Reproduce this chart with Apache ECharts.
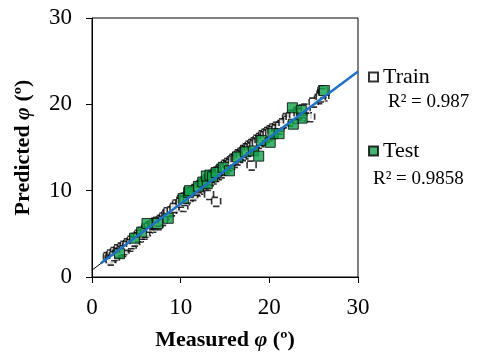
<!DOCTYPE html>
<html>
<head>
<meta charset="utf-8">
<script src="https://cdn.jsdelivr.net/npm/echarts@6/dist/echarts.min.js"></script>
<style>
  html, body { margin: 0; padding: 0; background: #fff; }
  #chart { width: 489px; height: 363px; }
</style>
</head>
<body>
<div id="chart"></div>
<script>
// measured vs predicted friction angle
const axisTicks = [0, 10, 20, 30];

const trainPoints = [
  [1.8, 2.3], [2.0, 2.1], [2.2, 2.6], [2.4, 2.2], [2.6, 2.9], [2.8, 2.5], [3.0, 3.2], [3.2, 2.8],
  [3.4, 3.4], [3.5, 2.9], [3.7, 3.6], [3.9, 3.3], [4.1, 3.9], [4.3, 3.5], [4.5, 4.2], [4.7, 3.9],
  [4.9, 4.5], [5.1, 4.3], [5.3, 4.9], [5.5, 4.6], [5.7, 5.2], [5.9, 4.9], [6.1, 5.6], [6.3, 5.3],
  [6.6, 5.9], [6.9, 5.7], [7.2, 6.3], [7.5, 6.0], [7.8, 6.6], [8.1, 6.9], [8.4, 7.2],
  [9.6, 8.4], [9.9, 8.2], [10.1, 8.9], [10.3, 8.1], [10.5, 9.2], [10.7, 8.9], [10.9, 9.6], [11.1, 9.3],
  [11.3, 9.9], [11.5, 9.6], [11.7, 10.2], [11.9, 9.9], [12.1, 10.5], [12.2, 10.1], [12.4, 10.8], [12.5, 10.4],
  [12.7, 11.0], [12.8, 10.6], [13.0, 11.3], [13.1, 10.9], [13.2, 9.5], [13.3, 11.5], [13.4, 11.1], [13.6, 11.8],
  [13.7, 11.3], [13.9, 12.0], [14.0, 8.7], [14.0, 11.6], [14.2, 12.2], [14.3, 11.8], [14.5, 12.5], [14.6, 12.0],
  [14.8, 12.7], [14.9, 12.3], [15.1, 13.0], [15.2, 12.5], [15.4, 13.2], [15.5, 12.8], [15.7, 13.4], [15.8, 13.0],
  [16.0, 13.7], [16.1, 13.2], [16.3, 13.9], [16.4, 13.5], [16.6, 14.2], [16.7, 13.8], [16.9, 14.4], [17.0, 14.0],
  [17.2, 14.7], [17.3, 14.2], [17.5, 14.9], [17.6, 14.5], [17.8, 15.2], [17.9, 14.7], [18.0, 12.9], [18.1, 15.4],
  [18.2, 15.0], [18.4, 15.6], [18.5, 15.2], [18.7, 15.9], [18.8, 15.4], [19.0, 16.1], [19.1, 15.6], [19.3, 16.4],
  [19.4, 15.9], [19.6, 16.6], [19.7, 16.1], [19.9, 16.8], [20.0, 16.3], [20.2, 17.0], [20.3, 16.5], [20.5, 17.2],
  [20.7, 16.8], [20.9, 17.4], [21.1, 17.1], [21.4, 17.6], [22.0, 18.4], [22.3, 18.0], [22.6, 18.8], [22.9, 18.3],
  [23.2, 19.1], [23.5, 18.7], [23.8, 19.4], [24.2, 18.6], [24.6, 18.5], [25.6, 20.6], [25.9, 21.2], [26.2, 20.9],
  [26.0, 21.6],
  [2.1, 1.9], [2.5, 2.4], [2.9, 2.8], [3.3, 3.0], [3.6, 3.1], [4.0, 3.6], [4.4, 3.8], [4.8, 4.1],
  [5.2, 4.6], [5.6, 4.9], [6.0, 5.1], [6.4, 5.7], [6.8, 6.0], [7.0, 6.1], [7.4, 6.4], [8.0, 6.5],
  [8.6, 7.5], [9.0, 7.6], [9.3, 8.0], [10.0, 8.6], [10.4, 8.8], [10.8, 9.1], [11.0, 9.7], [11.4, 9.4],
  [11.8, 10.0], [12.0, 10.3], [12.3, 10.6], [12.6, 10.8], [12.9, 10.9], [13.2, 11.2], [13.5, 11.5], [13.8, 11.7],
  [14.1, 11.9], [14.4, 12.3], [14.7, 12.4], [15.0, 12.6], [15.3, 12.9], [15.6, 13.1], [15.9, 13.5], [16.2, 13.6],
  [16.5, 13.9], [16.8, 14.1], [17.1, 14.4], [17.4, 14.6], [17.7, 14.9], [18.0, 15.0], [18.3, 15.3], [18.6, 15.5],
  [18.9, 15.8], [19.2, 15.9], [19.5, 16.3], [19.8, 16.5], [20.1, 16.7], [20.4, 16.9], [20.8, 17.1], [21.2, 17.4],
  [21.6, 17.8], [22.1, 18.1], [22.4, 18.5], [22.8, 18.7], [23.3, 18.9], [23.7, 19.0], [24.1, 19.5], [25.0, 20.2],
  [25.8, 20.8], [26.1, 21.3]
];

const testPoints = [
  [3.1, 2.7], [4.8, 4.5], [5.6, 5.2], [6.2, 6.2], [7.4, 6.2], [8.6, 6.8], [10.3, 9.1], [10.9, 9.8],
  [11.0, 10.0], [12.0, 10.5], [12.5, 11.0], [13.0, 10.8], [12.9, 11.7], [13.3, 11.8], [13.6, 11.6],
  [14.0, 12.1], [14.8, 12.7], [15.5, 12.3], [16.4, 13.9], [17.3, 14.5], [18.2, 14.6], [18.8, 14.0],
  [19.1, 15.8], [20.1, 15.6], [20.4, 16.6], [21.1, 16.6], [22.6, 19.6], [23.6, 19.3], [23.7, 18.4],
  [22.7, 17.7], [26.2, 21.6]
];

const trainFit = [[0, 0.8], [30, 23.8]];
const testFit = [[1.0, 1.6], [30, 23.8]];

const r2Train = 'R² = 0.987';
const r2Test = 'R² = 0.9858';

const chart = echarts.init(document.getElementById('chart'));
const serif = '"Liberation Serif", "DejaVu Serif", serif';

const titleRich = {
  b: { fontFamily: serif, fontWeight: 'bold', fontSize: 22, color: '#000' },
  i: { fontFamily: serif, fontWeight: 'bold', fontStyle: 'italic', fontSize: 22, color: '#000' }
};

chart.setOption({
  animation: false,
  backgroundColor: '#fff',
  textStyle: { fontFamily: serif },
  grid: {
    left: 92, right: 131, top: 18, bottom: 86,
    show: true, borderColor: '#000', borderWidth: 1
  },
  legend: {
    data: ['Train', 'Test'],
    orient: 'vertical',
    left: 363, top: 61,
    itemGap: 52,
    itemWidth: 9, itemHeight: 9,
    textStyle: { fontFamily: serif, fontSize: 22, color: '#000' }
  },
  graphic: [
    { type: 'text', left: 388, top: 93, style: { text: r2Train, font: '19px "Liberation Serif"', fill: '#000' } },
    { type: 'text', left: 373, top: 170, style: { text: r2Test, font: '19px "Liberation Serif"', fill: '#000' } }
  ],
  xAxis: {
    type: 'value', min: axisTicks[0], max: axisTicks[3], interval: 10,
    name: '{b|Measured }{i|φ}{b| (º)}',
    nameLocation: 'middle', nameGap: 52,
    nameTextStyle: { rich: titleRich },
    axisLine: { lineStyle: { color: '#000', width: 1 } },
    axisTick: { show: true, inside: false, length: 6, lineStyle: { color: '#000' } },
    axisLabel: { fontFamily: serif, fontSize: 23, color: '#000', margin: 19 },
    splitLine: { show: false }
  },
  yAxis: {
    type: 'value', min: axisTicks[0], max: axisTicks[3], interval: 10,
    name: '{b|Predicted }{i|φ}{b| (º)}',
    nameLocation: 'middle', nameGap: 58,
    nameTextStyle: { rich: titleRich },
    axisLine: { lineStyle: { color: '#000', width: 1 } },
    axisTick: { show: true, inside: false, length: 6, lineStyle: { color: '#000' } },
    axisLabel: { fontFamily: serif, fontSize: 23, color: '#000', margin: 20 },
    splitLine: { show: false }
  },
  series: [
    {
      name: 'Train', type: 'scatter', data: trainPoints,
      symbol: 'rect', symbolSize: 9,
      itemStyle: { color: '#fff', borderColor: '#000', borderWidth: 1.6, borderType: 'dashed' },
      z: 2
    },
    {
      name: 'Train fit', type: 'line', data: trainFit, symbol: 'none',
      lineStyle: { color: '#000', width: 1 }, z: 3
    },
    {
      name: 'Test', type: 'scatter', data: testPoints,
      symbol: 'rect', symbolSize: 10,
      itemStyle: { color: '#12a34c', borderColor: '#000', borderWidth: 1 },
      z: 4
    },
    {
      name: 'Test fit', type: 'line', data: testFit, symbol: 'none',
      lineStyle: { color: '#1f72c4', width: 2.5 }, z: 5
    }
  ]
});
</script>
</body>
</html>
